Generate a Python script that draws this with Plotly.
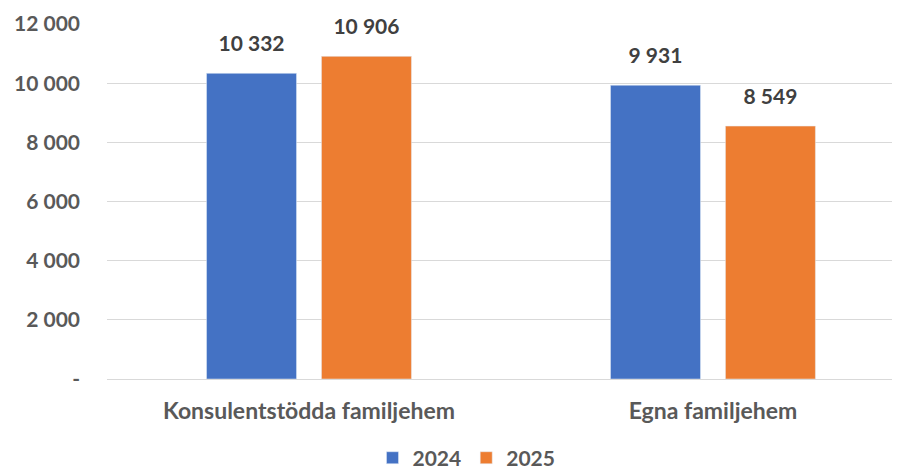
import plotly.graph_objects as go

categories = ["Konsulentstödda familjehem", "Egna familjehem"]
years = ["2024", "2025"]
values_2024 = [10332, 9931]
values_2025 = [10906, 8549]
tick_vals = [0, 2000, 4000, 6000, 8000, 10000, 12000]
tick_text = ["-", "2 000", "4 000", "6 000", "8 000", "10 000", "12 000"]
colors = ["#4472C4", "#ED7D31"]

font_family = "Lato, Open Sans, sans-serif"

fig = go.Figure()
for name, vals, col in zip(years, [values_2024, values_2025], colors):
    fig.add_trace(go.Bar(
        x=categories, y=vals, name=name, marker_color=col,
        offsetgroup=name, alignmentgroup="a",
    ))
for name, vals in zip(years, [values_2024, values_2025]):
    fig.add_trace(go.Scatter(
        x=categories, y=vals, mode="markers+text", showlegend=False,
        offsetgroup=name, alignmentgroup="a",
        marker=dict(size=26, opacity=0),
        text=[f"{v:,}".replace(",", " ") for v in vals],
        textposition="top center",
        textfont=dict(family=font_family, size=21, color="#404040", weight="bold"),
        cliponaxis=False, hoverinfo="skip",
    ))

fig.update_layout(
    width=892, height=464,
    margin=dict(l=99, r=0, t=16, b=93, autoexpand=False),
    paper_bgcolor="white", plot_bgcolor="white",
    barmode="group", bargap=0.431, bargroupgap=0.217,
    scattermode="group", scattergap=0.431,
    font=dict(family=font_family, color="#595959"),
    showlegend=True,
    legend=dict(orientation="h", xref="container", yref="container",
                x=0.514, xanchor="center", y=0.03, yanchor="middle",
                font=dict(size=21, color="#595959", weight="bold"),
                itemwidth=30, traceorder="normal", tracegroupgap=0,
                bgcolor="rgba(0,0,0,0)"),
)
fig.update_yaxes(range=[0, 12000], tickvals=tick_vals, ticktext=tick_text,
                 showgrid=True, gridcolor="#D9D9D9", gridwidth=1,
                 zeroline=False, showline=False, automargin=False,
                 tickfont=dict(size=21, color="#595959", weight="bold"),
                 ticklabelstandoff=26)
fig.update_xaxes(range=[-0.5, 1.463], showline=True, linecolor="#D9D9D9",
                 automargin=False,
                 tickfont=dict(size=23, color="#595959", weight="bold"),
                 ticks="", ticklabelstandoff=11)

fig.write_html("out.html")
